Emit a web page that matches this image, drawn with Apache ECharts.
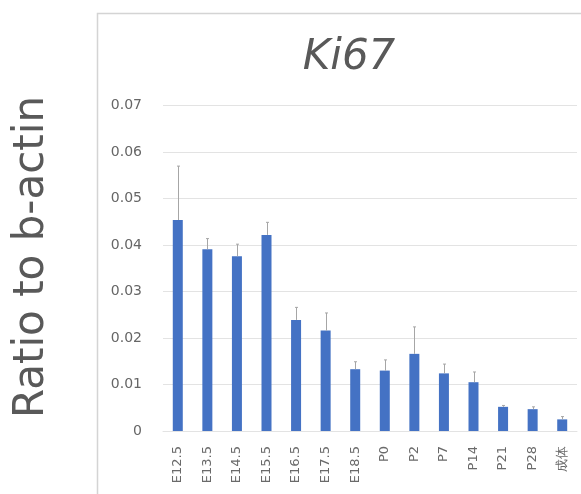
<!DOCTYPE html>
<html>
<head>
<meta charset="utf-8">
<script src="https://cdn.jsdelivr.net/npm/echarts@6/dist/echarts.min.js"></script>
<style>
  html, body { margin: 0; padding: 0; background: #ffffff; }
  #chart { width: 581px; height: 494px; }
</style>
</head>
<body>
<div id="chart"></div>
<script>
// Ki67 expression relative to b-actin across developmental stages
const categories = ['E12.5', 'E13.5', 'E14.5', 'E15.5', 'E16.5', 'E17.5', 'E18.5',
                    'P0', 'P2', 'P7', 'P14', 'P21', 'P28', '成体'];
const means = [0.0454, 0.0391, 0.0376, 0.0422, 0.0239, 0.0216, 0.0133,
               0.0130, 0.0166, 0.0124, 0.0105, 0.0052, 0.0047, 0.0025];
const upperErr = [0.0570, 0.0414, 0.0402, 0.0449, 0.0266, 0.0254, 0.0149,
                  0.0153, 0.0224, 0.0144, 0.0127, 0.0055, 0.0052, 0.0031];
const yTicks = [0, 0.01, 0.02, 0.03, 0.04, 0.05, 0.06, 0.07];

const chart = echarts.init(document.getElementById('chart'), null, { renderer: 'canvas' });

const textColor = '#595959';
const gridColor = '#e3e3e3';
const font = 'DejaVu Sans';

chart.setOption({
  animation: false,
  backgroundColor: '#ffffff',
  title: {
    text: 'Ki67',
    left: 344,
    top: 32,
    textAlign: 'center',
    textStyle: {
      fontFamily: font,
      fontStyle: 'italic',
      fontWeight: 'normal',
      fontSize: 42,
      color: textColor
    }
  },
  graphic: [
    {
      type: 'rect',
      shape: { x: 97.5, y: 13.5, width: 620, height: 620 },
      style: { fill: 'none', stroke: '#d4d4d4', lineWidth: 1.5 },
      silent: true,
      z: -1
    },
    {
      type: 'text',
      x: 32,
      y: 257,
      rotation: Math.PI / 2,
      style: {
        text: 'Ratio to b-actin',
        fontFamily: font,
        fontSize: 42,
        fill: textColor,
        align: 'center',
        verticalAlign: 'middle'
      }
    }
  ],
  grid: { left: 163, right: 4, top: 105.7, bottom: 63, containLabel: false },
  xAxis: {
    type: 'category',
    data: categories,
    axisLine: { show: true, lineStyle: { color: gridColor, width: 1 } },
    axisTick: { show: false },
    axisLabel: {
      rotate: 90,
      margin: 15,
      fontSize: 13,
      fontFamily: font,
      color: '#6a6a6a',
      interval: 0
    }
  },
  yAxis: {
    type: 'value',
    min: yTicks[0],
    max: yTicks[yTicks.length - 1],
    interval: 0.01,
    axisLine: { show: false },
    axisTick: { show: false },
    splitLine: { lineStyle: { color: gridColor, width: 1 } },
    axisLabel: {
      margin: 21,
      fontSize: 14,
      fontFamily: font,
      color: '#666666',
      formatter: v => (v === 0 ? '0' : v.toFixed(2))
    }
  },
  series: [
    {
      type: 'bar',
      data: means,
      barWidth: 10,
      itemStyle: { color: '#4472C4' },
      z: 2
    },
    {
      // upper error whiskers
      type: 'custom',
      z: 3,
      data: categories.map((c, i) => [i, means[i], upperErr[i]]),
      renderItem: (params, api) => {
        const base = api.coord([api.value(0), api.value(1)]);
        const top = api.coord([api.value(0), api.value(2)]);
        const x = Math.round(base[0]) + 0.5;
        const cap = 1.5;
        return {
          type: 'group',
          children: [
            {
              type: 'line',
              shape: { x1: x, y1: base[1], x2: x, y2: top[1] },
              style: { stroke: '#a6a6a6', lineWidth: 1 }
            },
            {
              type: 'line',
              shape: { x1: x - cap, y1: top[1], x2: x + cap, y2: top[1] },
              style: { stroke: '#a6a6a6', lineWidth: 1 }
            }
          ]
        };
      }
    }
  ]
});
</script>
</body>
</html>
